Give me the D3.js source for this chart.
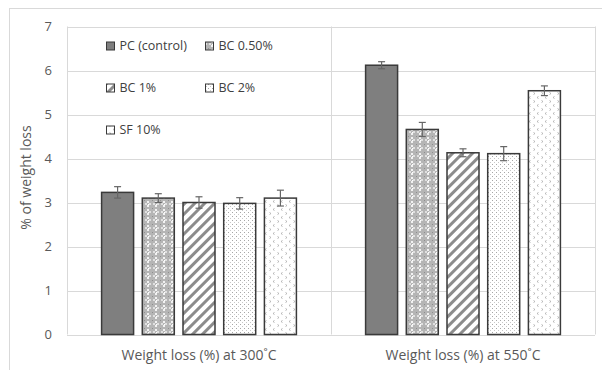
<!DOCTYPE html>
<html><head><meta charset="utf-8">
<script src="https://cdn.jsdelivr.net/npm/d3@7"></script>
<style>html,body{margin:0;padding:0;background:#fff;}svg{display:block;}</style>
</head><body>
<svg id="chart" width="602" height="370"></svg>
<script>
const categories = ["Weight loss (%) at 300˚C", "Weight loss (%) at 550˚C"];
const seriesNames = ["PC (control)", "BC 0.50%", "BC 1%", "BC 2%", "SF 10%"];
const values300 = [3.23, 3.10, 3.00, 2.98, 3.10];
const values550 = [6.12, 4.66, 4.13, 4.11, 5.54];
const errors300 = [0.13, 0.10, 0.13, 0.13, 0.18];
const errors550 = [0.08, 0.16, 0.09, 0.16, 0.11];
const yTicks = [0, 1, 2, 3, 4, 5, 6, 7];
const yTitle = "% of weight loss";

const svg = d3.select("#chart");
const font = "'Open Sans', 'Noto Sans', sans-serif";
const m = {left: 67, right: 595, top: 26.5, bottom: 334.5};

// outer chart border
svg.append("rect").attr("x", 9.5).attr("y", 8.5).attr("width", 620).attr("height", 400)
  .attr("fill", "none").attr("stroke", "#d9d9d9").attr("stroke-width", 1);

// patterns
const defs = svg.append("defs");
// BC 0.50%: gray with white crosses/checks
let p = defs.append("pattern").attr("id", "p1").attr("patternUnits", "userSpaceOnUse").attr("width", 8).attr("height", 8);
p.append("rect").attr("width", 8).attr("height", 8).attr("fill", "#b5b5b5");
p.append("rect").attr("x", 3).attr("y", 1).attr("width", 2).attr("height", 2).attr("fill", "#f2f2f2");
p.append("rect").attr("x", 1).attr("y", 3).attr("width", 2).attr("height", 2).attr("fill", "#e0e0e0");
p.append("rect").attr("x", 5).attr("y", 3).attr("width", 2).attr("height", 2).attr("fill", "#e0e0e0");
p.append("rect").attr("x", 3).attr("y", 5).attr("width", 2).attr("height", 2).attr("fill", "#f2f2f2");
p.append("rect").attr("x", 0).attr("y", 0).attr("width", 1).attr("height", 1).attr("fill", "#8f8f8f");
p.append("rect").attr("x", 4).attr("y", 4).attr("width", 1).attr("height", 1).attr("fill", "#ffffff");
// BC 1%: diagonal stripes
p = defs.append("pattern").attr("id", "p2").attr("patternUnits", "userSpaceOnUse").attr("width", 7).attr("height", 7)
  .attr("patternTransform", "rotate(45)");
p.append("rect").attr("width", 7).attr("height", 7).attr("fill", "#ffffff");
p.append("rect").attr("x", 0).attr("width", 3).attr("height", 7).attr("fill", "#8c8c8c");
// BC 2%: small gray dots
p = defs.append("pattern").attr("id", "p3").attr("patternUnits", "userSpaceOnUse").attr("width", 4).attr("height", 4);
p.append("rect").attr("width", 4).attr("height", 4).attr("fill", "#ffffff");
p.append("rect").attr("x", 0).attr("y", 0).attr("width", 1).attr("height", 1).attr("fill", "#a6a6a6");
p.append("rect").attr("x", 2).attr("y", 2).attr("width", 1).attr("height", 1).attr("fill", "#c8c8c8");
// SF 10%: sparse < > marks
p = defs.append("pattern").attr("id", "p4").attr("patternUnits", "userSpaceOnUse").attr("width", 8).attr("height", 8);
p.append("rect").attr("width", 8).attr("height", 8).attr("fill", "#ffffff");
p.append("path").attr("d", "M2.5,0.5 L1,1.5 L2.5,2.5").attr("fill", "none").attr("stroke", "#a6a6a6").attr("stroke-width", 0.8);
p.append("path").attr("d", "M5.5,4.5 L7,5.5 L5.5,6.5").attr("fill", "none").attr("stroke", "#a6a6a6").attr("stroke-width", 0.8);

const fills = ["#7f7f7f", "url(#p1)", "url(#p2)", "url(#p3)", "url(#p4)"];

const y = d3.scaleLinear().domain([0, 7]).range([m.bottom, m.top]);
const x0 = d3.scaleBand().domain(categories).range([m.left, m.right]).paddingInner(0).paddingOuter(0);
const x1 = d3.scaleBand().domain(seriesNames).range([0, x0.bandwidth()]).paddingInner(0.214).paddingOuter(0.85);

// gridlines
svg.append("g").selectAll("line").data(yTicks).join("line")
  .attr("x1", m.left).attr("x2", m.right)
  .attr("y1", d => Math.round(y(d)) + 0.5).attr("y2", d => Math.round(y(d)) + 0.5)
  .attr("stroke", "#d9d9d9").attr("stroke-width", 1);
// vertical category boundary lines
const bounds = [m.left, x0(categories[1]), m.right];
svg.append("g").selectAll("line").data(bounds).join("line")
  .attr("x1", d => Math.round(d) + 0.5).attr("x2", d => Math.round(d) + 0.5)
  .attr("y1", y(7)).attr("y2", y(0))
  .attr("stroke", "#d9d9d9").attr("stroke-width", 1);

// y tick labels
svg.append("g").selectAll("text").data(yTicks).join("text")
  .attr("x", 52).attr("y", d => y(d)).attr("dy", "0.35em").attr("text-anchor", "end")
  .attr("font-family", font).attr("font-size", 13).attr("fill", "#595959").text(d => d);

// y title
svg.append("text").attr("transform", `translate(31,${(m.top + m.bottom) / 2 - 3}) rotate(-90)`)
  .attr("text-anchor", "middle").attr("font-family", font).attr("font-size", 14).attr("fill", "#595959").text(yTitle);

// x category labels
svg.append("g").selectAll("text").data(categories).join("text")
  .attr("x", d => x0(d) + x0.bandwidth() / 2).attr("y", 360).attr("text-anchor", "middle")
  .attr("font-family", font).attr("font-size", 14).attr("fill", "#595959").text(d => d);

// bars
const data = [];
categories.forEach((c, ci) => {
  const vals = ci === 0 ? values300 : values550;
  const errs = ci === 0 ? errors300 : errors550;
  seriesNames.forEach((s, si) => data.push({c, s, si, v: vals[si], e: errs[si]}));
});
svg.append("g").selectAll("rect").data(data).join("rect")
  .attr("x", d => x0(d.c) + x1(d.s)).attr("width", x1.bandwidth())
  .attr("y", d => y(d.v)).attr("height", d => y(0) - y(d.v))
  .attr("fill", d => fills[d.si]).attr("stroke", "#3a3a3a").attr("stroke-width", 1.5);

// error bars
const eg = svg.append("g").attr("stroke", "#666666").attr("stroke-width", 1.2);
data.forEach(d => {
  const cx = x0(d.c) + x1(d.s) + x1.bandwidth() / 2;
  eg.append("line").attr("x1", cx).attr("x2", cx).attr("y1", y(d.v + d.e)).attr("y2", y(d.v - d.e));
  eg.append("line").attr("x1", cx - 3.5).attr("x2", cx + 3.5).attr("y1", y(d.v + d.e)).attr("y2", y(d.v + d.e));
  eg.append("line").attr("x1", cx - 3.5).attr("x2", cx + 3.5).attr("y1", y(d.v - d.e)).attr("y2", y(d.v - d.e));
});

// legend
const legendPos = [[106.5, 46], [205.5, 46], [106.5, 88], [205.5, 88], [106.5, 130]];
const lg = svg.append("g");
seriesNames.forEach((s, i) => {
  const [lx, ly] = legendPos[i];
  lg.append("rect").attr("x", lx).attr("y", ly - 4).attr("width", 8).attr("height", 8)
    .attr("fill", fills[i]).attr("stroke", "#3a3a3a").attr("stroke-width", 1);
  lg.append("text").attr("x", lx + 13).attr("y", ly).attr("dy", "0.35em")
    .attr("font-family", font).attr("font-size", 12.5).attr("fill", "#404040").text(s);
});
</script>
</body></html>
